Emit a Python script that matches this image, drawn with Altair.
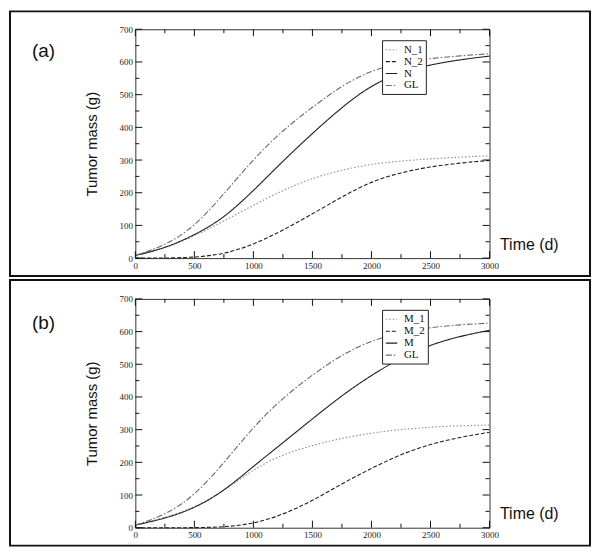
import altair as alt
import pandas as pd

# ---- data ----
t = [0, 250, 500, 750, 1000, 1250, 1500, 1750, 2000, 2250, 2500, 2750, 3000]

names_a = ["N_1", "N_2", "N", "GL"]
a_N1 = [8, 30, 67, 113, 162, 208, 245, 270, 288, 297, 304, 309, 313]
a_N2 = [0, 0, 2, 12, 41, 85, 135, 188, 235, 262, 280, 291, 299]
a_N = [8, 30, 70, 122, 206, 297, 382, 462, 530, 568, 592, 607, 618]
a_GL = [8, 38, 95, 196, 303, 392, 462, 528, 575, 598, 611, 619, 625]

names_b = ["M_1", "M_2", "M", "GL"]
b_M1 = [8, 30, 62, 112, 179, 225, 252, 274, 290, 301, 308, 312, 314]
b_M2 = [0, 0, 0, 2, 12, 40, 82, 135, 182, 225, 256, 277, 292]
b_M = [8, 28, 59, 112, 188, 260, 333, 405, 467, 520, 560, 586, 604]
b_GL = [8, 38, 97, 198, 309, 398, 468, 530, 573, 598, 613, 621, 626]

x_major = [0, 500, 1000, 1500, 2000, 2500, 3000]
x_minor = [250, 750, 1250, 1750, 2250, 2750]
y_major = [0, 100, 200, 300, 400, 500, 600, 700]
y_minor = [50, 150, 250, 350, 450, 550, 650]

W, H = 356, 230
colors = ["#8c8c8c", "#1e1e1e", "#1e1e1e", "#6a6a6a"]
dashes = [[1.5, 2], [4, 2], [1, 0], [6, 2, 1.5, 2]]


def panel(label, names, values, rect_top, rect_bottom, label_y):
    rows = []
    for n, vals in zip(names, values):
        for tt, v in zip(t, vals):
            rows.append({"t": tt, "mass": v, "series": n})
    df = pd.DataFrame(rows)
    xs = alt.Scale(domain=[0, 3000], nice=False, zero=False)
    ys = alt.Scale(domain=[0, 700], nice=False, zero=False)
    leg = alt.Legend(orient="none", legendX=248, legendY=11, title=None,
                     symbolType="stroke", symbolSize=130, symbolStrokeWidth=1.1,
                     labelFont="Liberation Serif", labelFontSize=11, labelColor="#111",
                     padding=3, rowPadding=0, strokeColor="#222", fillColor="white",
                     labelOffset=6)
    lines = alt.Chart(df).mark_line(strokeWidth=1.1, interpolate="basis").encode(
        x=alt.X("t:Q", scale=xs, axis=alt.Axis(
            values=x_major, format="d", ticks=False, domain=False, grid=False,
            labelFont="Liberation Serif", labelFontSize=9, labelColor="#222", labelPadding=3,
            labelFlush=False, labelOverlap=False,
            title="Time (d)", titleFont="Liberation Sans", titleFontSize=16,
            titleFontWeight="normal", titleColor="#111",
            titleX=W + 10, titleY=-6, titleAlign="left", titleBaseline="bottom")),
        y=alt.Y("mass:Q", scale=ys, axis=alt.Axis(
            values=y_major, format="d", ticks=False, domain=False, grid=False,
            labelFont="Liberation Serif", labelFontSize=9, labelColor="#222", labelPadding=3,
            labelFlush=False, labelOverlap=False,
            title="Tumor mass (g)", titleFont="Liberation Sans", titleFontSize=15,
            titleFontWeight="normal", titleColor="#111", titlePadding=20)),
        color=alt.Color("series:N", scale=alt.Scale(domain=names, range=colors), legend=leg),
        strokeDash=alt.StrokeDash("series:N", scale=alt.Scale(domain=names, range=dashes), legend=leg),
    )
    layers = [lines]
    # tick marks on all four sides, pointing inward
    for vals, ln in ((x_major, 7), (x_minor, 4)):
        d = pd.DataFrame({"t": vals})
        base = alt.Chart(d).mark_rule(color="#111", strokeWidth=1)
        layers.append(base.encode(x=alt.X("t:Q", scale=xs, axis=None), y=alt.value(H), y2=alt.value(H - ln)))
        layers.append(base.encode(x=alt.X("t:Q", scale=xs, axis=None), y=alt.value(0), y2=alt.value(ln)))
    for vals, ln in ((y_major, 7), (y_minor, 4)):
        d = pd.DataFrame({"mass": vals})
        base = alt.Chart(d).mark_rule(color="#111", strokeWidth=1)
        layers.append(base.encode(y=alt.Y("mass:Q", scale=ys, axis=None), x=alt.value(0), x2=alt.value(ln)))
        layers.append(base.encode(y=alt.Y("mass:Q", scale=ys, axis=None), x=alt.value(W), x2=alt.value(W - ln)))
    one = pd.DataFrame({"label": [label]})
    layers.append(alt.Chart(one).mark_text(font="Liberation Sans", fontSize=19, align="left",
                                           baseline="middle", color="#111").encode(
        text="label:N", x=alt.value(-104), y=alt.value(label_y)))
    layers.append(alt.Chart(one).mark_rect(fillOpacity=0, stroke="#111", strokeWidth=2).encode(
        x=alt.value(-126), x2=alt.value(W + 101), y=alt.value(rect_top), y2=alt.value(rect_bottom)))
    return (alt.layer(*layers)
            .resolve_scale(color="independent", strokeDash="independent")
            .resolve_axis(x="independent", y="independent")
            .properties(width=W, height=H))


pa = panel("(a)", names_a, [a_N1, a_N2, a_N, a_GL], -18, H + 18, 22)
pb = panel("(b)", names_b, [b_M1, b_M2, b_M, b_GL], -19, H + 18, 24)

chart = alt.vconcat(pa, pb, spacing=0).properties(padding=0).configure_view(
    stroke="#333", strokeWidth=1).configure_concat(spacing=0)

chart.save("out.html", embed_options={"renderer": "svg", "actions": False})
